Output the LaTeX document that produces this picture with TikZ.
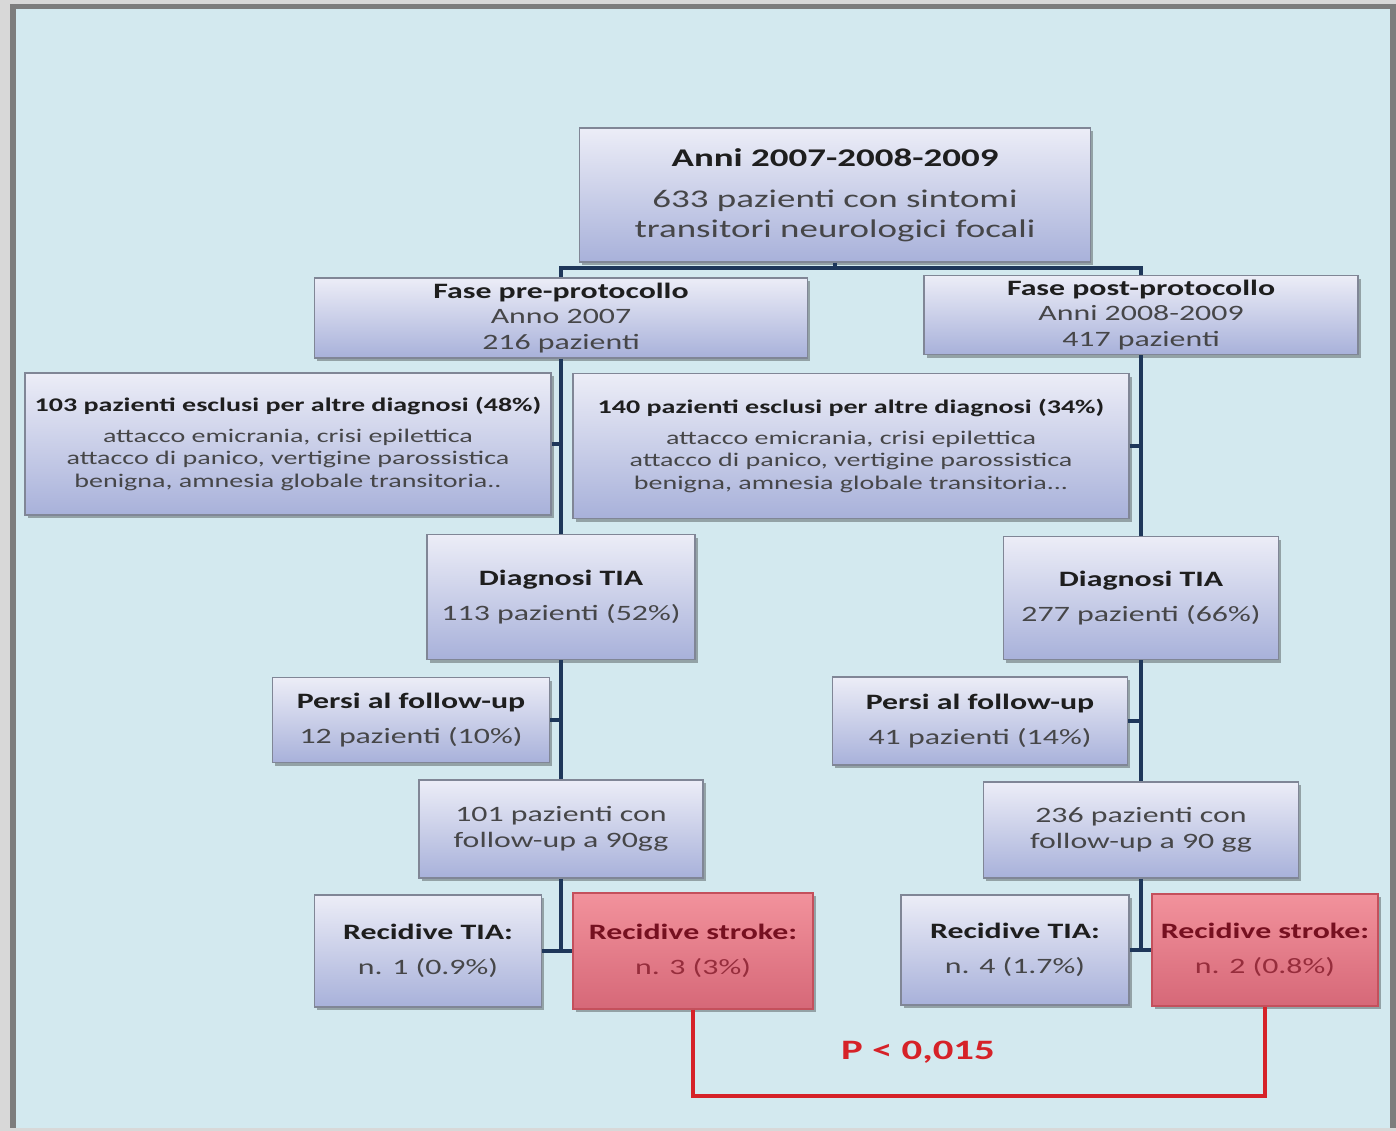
\documentclass[tikz,border=0pt]{standalone}
\usepackage{fontspec}
\setmainfont{Carlito}[FakeStretch=1.45]
\usetikzlibrary{shadows}

\definecolor{outergray}{RGB}{216,216,216}
\definecolor{framegray}{RGB}{125,125,125}
\definecolor{bgblue}{RGB}{211,233,239}
\definecolor{boxtop}{RGB}{236,237,247}
\definecolor{boxbot}{RGB}{168,177,218}
\definecolor{boxline}{RGB}{128,134,150}
\definecolor{redtop}{RGB}{242,146,156}
\definecolor{redbot}{RGB}{214,104,120}
\definecolor{redline}{RGB}{196,80,92}
\definecolor{redtxt}{RGB}{118,16,32}
\definecolor{redtxtb}{RGB}{150,45,60}
\definecolor{txtdark}{RGB}{30,30,30}
\definecolor{txtgray}{RGB}{70,70,72}
\definecolor{navy}{RGB}{30,55,90}
\definecolor{pred}{RGB}{214,34,40}

\newcommand{\hd}[1]{\textbf{\color{txtdark}#1}}
\newcommand{\redhd}[1]{\textbf{\color{redtxt}#1}}

\begin{document}
\begin{tikzpicture}[
x=0.02cm, y=-0.02cm,
box/.style={draw=boxline, line width=0.6pt, top color=boxtop, bottom color=boxbot,
  align=center, inner sep=0pt, text=txtgray,
  drop shadow={shadow xshift=1.6pt, shadow yshift=-1.8pt, opacity=0.3, fill=black}},
redbox/.style={box, draw=redline, top color=redtop, bottom color=redbot, text=redtxtb},
wh/.style 2 args={minimum width={#1*0.02cm}, minimum height={#2*0.02cm}},
big/.style={font=\fontsize{14.5}{17}\selectfont},
mid/.style={font=\fontsize{12.5}{14.5}\selectfont},
small/.style={font=\fontsize{11}{12.8}\selectfont},
airy/.style={font=\fontsize{12.5}{20}\selectfont},
link/.style={draw=navy, line width=2.2pt},
plink/.style={draw=pred, line width=1.8pt}
]

% frame
\useasboundingbox (0,0) rectangle (1396,1131);
\fill[outergray] (0,0) rectangle (1396,1131);
\fill[framegray] (10,4) rectangle (1396,1128);
\fill[bgblue] (16,9) rectangle (1390,1128);

% boxes
\node[box, big, wh={511}{134}] (top) at (835,195)
  {\hd{Anni 2007-2008-2009}\\[6.5pt]633 pazienti con sintomi\\transitori neurologici focali};
\node[box, mid, wh={493}{80}] (pre) at (561,318)
  {\hd{Fase pre-protocollo}\\Anno 2007\\216 pazienti};
\node[box, mid, wh={434}{79}] (post) at (1141,315)
  {\hd{Fase post-protocollo}\\Anni 2008-2009\\417 pazienti};

\node[box, small, wh={526}{142}] (exL) at (288,444)
  {\hd{103 pazienti esclusi per altre diagnosi (48\%)}\\[4.8pt]attacco emicrania, crisi epilettica\\attacco di panico, vertigine parossistica\\benigna, amnesia globale transitoria..};
\node[box, small, wh={556}{145}] (exR) at (851,446)
  {\hd{140 pazienti esclusi per altre diagnosi (34\%)}\\[4.8pt]attacco emicrania, crisi epilettica\\attacco di panico, vertigine parossistica\\benigna, amnesia globale transitoria...};

\node[box, airy, wh={268}{125}] (dgL) at (561,597)
  {\hd{Diagnosi TIA}\\113 pazienti (52\%)};
\node[box, airy, wh={275}{123}] (dgR) at (1141,598)
  {\hd{Diagnosi TIA}\\277 pazienti (66\%)};

\node[box, airy, wh={277}{85}] (psL) at (411,720)
  {\hd{Persi al follow-up}\\12 pazienti (10\%)};
\node[box, airy, wh={295}{88}] (psR) at (980,721)
  {\hd{Persi al follow-up}\\41 pazienti (14\%)};

\node[box, mid, wh={284}{98}] (fuL) at (561,829)
  {101 pazienti con\\follow-up a 90gg};
\node[box, mid, wh={315}{96}] (fuR) at (1141,830)
  {236 pazienti con\\follow-up a 90 gg};

\node[box, airy, wh={227}{112}] (tiaL) at (428,951)
  {\hd{Recidive TIA:}\\n. 1 (0.9\%)};
\node[redbox, airy, wh={240}{116}] (stL) at (693,951)
  {\redhd{Recidive stroke:}\\n. 3 (3\%)};
\node[box, airy, wh={228}{110}] (tiaR) at (1015,950)
  {\hd{Recidive TIA:}\\n. 4 (1.7\%)};
\node[redbox, airy, wh={226}{112}] (stR) at (1265,950)
  {\redhd{Recidive stroke:}\\n. 2 (0.8\%)};

\node[text=pred, font=\fontsize{16}{18}\selectfont\bfseries] (pval) at (918,1052) {P < 0,015};

% connectors
\coordinate (split) at (835,268);
\coordinate (pbase) at (918,1096);

\draw[link] (top.south) -- (split) -| (pre.north);
\draw[link] (split) -| (post.north);

\draw[link] (pre.south) -- (dgL.north);
\draw[link] (exL.east) -- (exL.east -| pre.south);
\draw[link] (dgL.south) -- (fuL.north);
\draw[link] (psL.east) -- (psL.east -| fuL.north);
\draw[link] (fuL.south) -- (fuL.south |- tiaL.east);
\draw[link] (tiaL.east) -- (stL.west);

\draw[link] (post.south) -- (dgR.north);
\draw[link] (exR.east) -- (exR.east -| post.south);
\draw[link] (dgR.south) -- (fuR.north);
\draw[link] (psR.east) -- (psR.east -| fuR.north);
\draw[link] (fuR.south) -- (fuR.south |- tiaR.east);
\draw[link] (tiaR.east) -- (stR.west);

\draw[plink] (stL.south) |- (pbase) -| (stR.south);

\end{tikzpicture}
\end{document}
